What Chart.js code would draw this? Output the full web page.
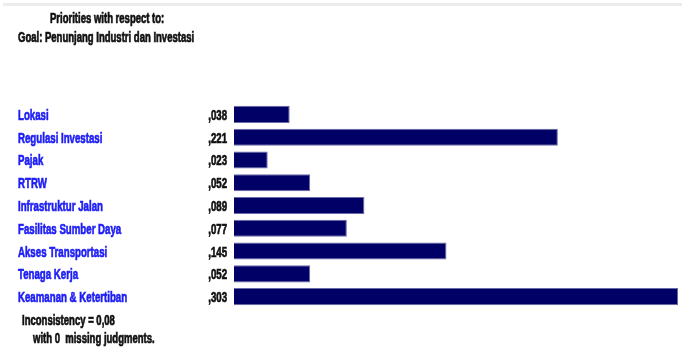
<!DOCTYPE html>
<html>
<head>
<meta charset="utf-8">
<script src="https://cdn.jsdelivr.net/npm/chart.js@4.4.0/dist/chart.umd.min.js"></script>
<style>
  body { margin: 0; background: #fff; }
  #wrap { position: relative; width: 682px; height: 352px; }
  #topline { position: absolute; left: 3px; top: 3px; width: 679px; height: 3px; background: #ececec; }
</style>
</head>
<body>
<div id="wrap">
  <div id="topline"></div>
  <canvas id="chart" width="682" height="352"></canvas>
</div>
<script>
const categories = ["Lokasi", "Regulasi Investasi", "Pajak", "RTRW", "Infrastruktur Jalan",
  "Fasilitas Sumber Daya", "Akses Transportasi", "Tenaga Kerja", "Keamanan & Ketertiban"];
const priorities = [0.038, 0.221, 0.023, 0.052, 0.089, 0.077, 0.145, 0.052, 0.303];
const valueLabels = [",038", ",221", ",023", ",052", ",089", ",077", ",145", ",052", ",303"];
const titleLines = ["Priorities with respect to:", "Goal: Penunjang Industri dan Investasi"];
const footerLines = ["Inconsistency = 0,08", "with 0  missing judgments."];

// the original text is squeezed horizontally, so draw it scaled
function squeezedText(ctx, txt, x, y, align, sx) {
  ctx.save();
  ctx.translate(x, y);
  ctx.scale(sx, 1);
  ctx.textAlign = align;
  ctx.lineWidth = 0.7;
  ctx.strokeStyle = ctx.fillStyle;
  ctx.fillText(txt, 0, 0);
  ctx.strokeText(txt, 0, 0);
  ctx.restore();
}

const textPlugin = {
  id: 'textPlugin',
  afterDraw(chart) {
    const ctx = chart.ctx;
    const yScale = chart.scales.y;
    ctx.save();
    ctx.textBaseline = 'alphabetic';
    // header
    ctx.fillStyle = '#111';
    ctx.font = 'bold 14px "Liberation Sans"';
    squeezedText(ctx, titleLines[0], 50, 23, 'left', 0.68);
    squeezedText(ctx, titleLines[1], 18, 42, 'left', 0.68);
    // category names and values
    for (let i = 0; i < categories.length; i++) {
      const y = yScale.getPixelForValue(i) + 5.5;
      ctx.fillStyle = '#1e1ef5';
      ctx.font = 'bold 15px "Liberation Sans"';
      squeezedText(ctx, categories[i], 18, y, 'left', 0.645);
      ctx.fillStyle = '#111';
      ctx.font = 'bold 14px "Liberation Sans"';
      squeezedText(ctx, valueLabels[i], 227, y, 'right', 0.69);
    }
    // footer
    ctx.fillStyle = '#111';
    ctx.font = 'bold 14px "Liberation Sans"';
    squeezedText(ctx, footerLines[0], 22, 325, 'left', 0.68);
    squeezedText(ctx, footerLines[1], 33, 343, 'left', 0.68);
    ctx.restore();
  }
};

new Chart(document.getElementById('chart'), {
  type: 'bar',
  data: {
    labels: categories,
    datasets: [{
      data: priorities,
      backgroundColor: '#000066',
      borderColor: '#6a6aa6',
      borderWidth: 1,
      categoryPercentage: 1,
      barPercentage: 0.75
    }]
  },
  options: {
    indexAxis: 'y',
    responsive: false,
    animation: false,
    layout: { padding: { left: 234, right: 4, top: 103, bottom: 44 } },
    plugins: { legend: { display: false }, tooltip: { enabled: false } },
    scales: {
      x: { display: false, min: 0, max: 0.303 },
      y: { display: false }
    }
  },
  plugins: [textPlugin]
});
</script>
</body>
</html>
